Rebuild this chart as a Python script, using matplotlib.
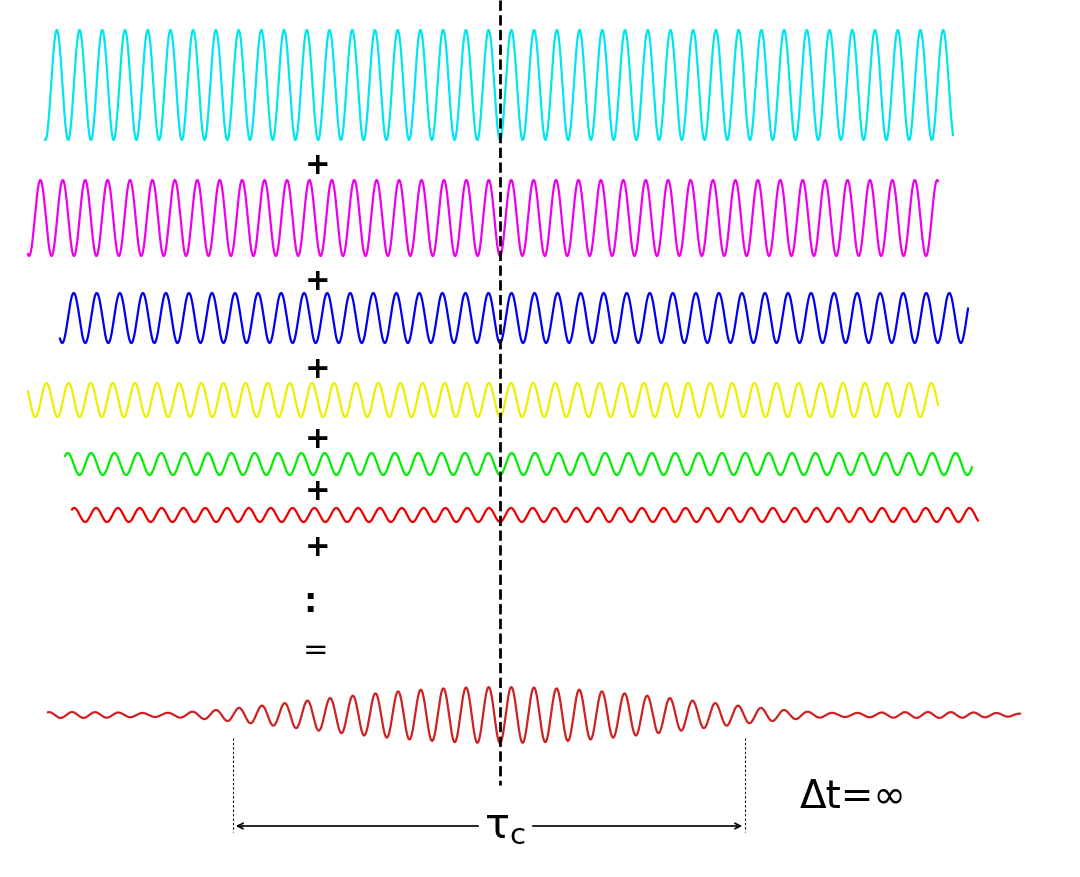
import numpy as np
import matplotlib
matplotlib.use("Agg")
import matplotlib.pyplot as plt

# component waves (pixel-like coordinates, y grows downward)
colors = ["#00e5ee", "#ee00ee", "#0000ee", "#eeee00", "#00ee00", "#ee0000"]
centers = [85, 218, 318, 400, 464, 515]
amps = [55, 38, 25, 17, 11, 7]
x_start = [45, 28, 60, 28, 65, 72]
x_end = [953, 938, 968, 938, 972, 978]
freqs = [44.0, 44.6, 43.4, 45.2, 42.8, 45.8]  # cycles per 1000 px
weights = [1.0, 0.85, 0.85, 0.6, 0.6, 0.4]    # weight in the sum
x0 = 500                                       # all in phase here

plus_y = [165, 282, 370, 440, 492, 548]
sum_center, sum_amp = 715, 28
sum_x = (48, 1020)

fig = plt.figure(figsize=(10.8, 8.77), dpi=100)
ax = fig.add_axes([0, 0, 1, 1])
ax.set_xlim(0, 1080)
ax.set_ylim(877, 0)
ax.axis("off")

for c, yc, a, xs, xe, f in zip(colors, centers, amps, x_start, x_end, freqs):
    x = np.linspace(xs, xe, 3000)
    ax.plot(x, yc + a * np.cos(2 * np.pi * f / 1000 * (x - x0)), color=c, lw=1.6)

for y in plus_y:
    ax.text(318, y, "+", fontsize=22, ha="center", va="center", fontweight="bold")
ax.text(310, 603, ":", fontsize=24, ha="center", va="center", fontweight="bold")
ax.text(316, 650, "=", fontsize=22, ha="center", va="center")

# superposition
x = np.linspace(*sum_x, 6000)
s = sum(w * np.cos(2 * np.pi * f / 1000 * (x - x0)) for w, f in zip(weights, freqs))
s = s / sum(weights)
ax.plot(x, sum_center + sum_amp * s, color="#cc2222", lw=1.6)

ax.plot([x0, x0], [0, 785], "k--", lw=2)
for xv in (233, 745):
    ax.plot([xv, xv], [738, 832], "k--", lw=0.8, dashes=(2, 2))
ax.annotate("", xy=(233, 826), xytext=(745, 826),
            arrowprops=dict(arrowstyle="<->", lw=1.2, color="black"))
ax.text(505, 826, r"$\mathregular{\tau_c}$", fontsize=30, ha="center", va="center",
        backgroundcolor="white")
ax.text(800, 797, "Δt=∞", fontsize=28, ha="left", va="center")

fig.savefig("out.png", dpi=100)
